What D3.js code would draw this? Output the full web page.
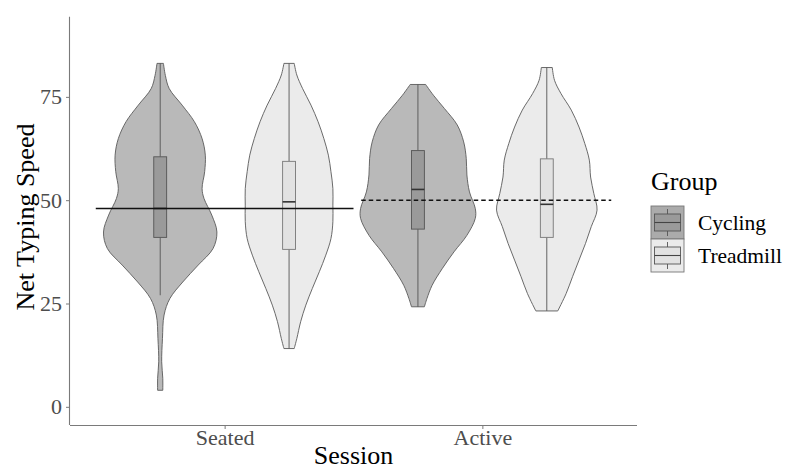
<!DOCTYPE html>
<html>
<head>
<meta charset="utf-8">
<script src="https://cdn.jsdelivr.net/npm/d3@7"></script>
<style>
  body { margin: 0; background: #fff; }
  svg { display: block; font-family: "Liberation Serif", "Times New Roman", serif; }
</style>
</head>
<body>
<div id="chart"></div>
<script>
// Categories
const sessions = ['Seated', 'Active'];
const groups = ['Cycling', 'Treadmill'];
const yTicks = [0, 25, 50, 75];

// Violin outlines: [value, relative density]
const seatedCycling = [
    [83.1, 0.05], [80.2, 0.08], [77.0, 0.14], [73.0, 0.34], [69.0, 0.53], [64.9, 0.65],
    [60.9, 0.70], [56.9, 0.69], [52.8, 0.65], [50.4, 0.68], [46.4, 0.80], [42.3, 0.88],
    [38.3, 0.82], [34.3, 0.59], [30.2, 0.35], [26.2, 0.15], [22.2, 0.06], [16.5, 0.035],
    [10.9, 0.023], [6.9, 0.04], [4.0, 0.04]
];
const seatedTreadmill = [
    [83.1, 0.08], [80.3, 0.12], [77.0, 0.21], [73.0, 0.34], [69.0, 0.45], [64.9, 0.54],
    [60.9, 0.61], [56.9, 0.65], [52.8, 0.68], [48.8, 0.68], [44.8, 0.68], [40.7, 0.65],
    [36.7, 0.57], [32.7, 0.47], [28.6, 0.36], [24.6, 0.26], [20.6, 0.18], [16.5, 0.12],
    [14.1, 0.08]
];
const activeCycling = [
    [78.0, 0.12], [75.4, 0.24], [72.2, 0.41], [68.2, 0.61], [64.1, 0.71], [60.1, 0.75],
    [56.1, 0.76], [52.0, 0.80], [48.0, 0.89], [45.6, 0.89], [41.5, 0.76], [37.5, 0.56],
    [33.5, 0.38], [29.4, 0.22], [26.2, 0.14], [24.2, 0.10]
];
const activeTreadmill = [
    [82.1, 0.085], [79.0, 0.12], [75.8, 0.22], [71.8, 0.38], [67.7, 0.50], [63.7, 0.59],
    [59.7, 0.66], [55.6, 0.68], [51.6, 0.73], [47.6, 0.78], [43.6, 0.69], [39.5, 0.60],
    [35.5, 0.50], [31.5, 0.40], [27.4, 0.30], [23.2, 0.17]
];

// Box plot stats: [lower whisker, q1, median, q3, upper whisker]
const seatedCyclingBox = [27.0, 41.0, 48.0, 60.5, 83.1];
const seatedTreadmillBox = [14.1, 38.1, 49.6, 59.4, 83.1];
const activeCyclingBox = [24.2, 43.0, 52.6, 62.0, 78.0];
const activeTreadmillBox = [23.2, 41.0, 49.0, 60.0, 82.1];

// Session means drawn as horizontal lines
const sessionMeans = [48, 50];

const violins = [
    {session: 0, group: 0, dens: seatedCycling, box: seatedCyclingBox},
    {session: 0, group: 1, dens: seatedTreadmill, box: seatedTreadmillBox},
    {session: 1, group: 0, dens: activeCycling, box: activeCyclingBox},
    {session: 1, group: 1, dens: activeTreadmill, box: activeTreadmillBox}
];

const violinFill = ['#b9b9b9', '#ebebeb'];
const boxFill = ['#9a9a9a', '#e2e2e2'];
const boxStroke = ['#555', '#777'];

const W = 786, H = 471;
const plot = {left: 70, right: 637, top: 16.7, bottom: 425};

const svg = d3.select('#chart')
    .append('svg')
    .attr('width', W)
    .attr('height', H);

// Scales
const x = d3.scaleLinear().domain([0.4, 2.6]).range([plot.left, plot.right]);
const y = d3.scaleLinear().domain([-4.4, 94.4]).range([plot.bottom, plot.top]);
const w = d3.scaleLinear().domain([0, 1]).range([0, x(0.25) - x(0)]);
const dodge = 0.25;
const boxHalf = 0.025;

const cx = d => x(d.session + 1 + (d.group === 0 ? -dodge : dodge));

// Violins
violins.forEach(v => {
    const c = cx(v);
    const area = d3.area()
        .y(d => y(d[0]))
        .x0(d => c - w(d[1]))
        .x1(d => c + w(d[1]))
        .curve(d3.curveCatmullRom);
    svg.append('path')
        .attr('d', area(v.dens))
        .attr('fill', violinFill[v.group])
        .attr('stroke', '#5a5a5a')
        .attr('stroke-width', 0.9);
});

// Boxes
violins.forEach(v => {
    const c = cx(v);
    const bw = x(boxHalf) - x(0);
    const b = v.box;
    const g = svg.append('g');
    g.append('line')
        .attr('x1', c).attr('x2', c)
        .attr('y1', y(b[4])).attr('y2', y(b[3]))
        .attr('stroke', '#555').attr('stroke-width', 0.9);
    g.append('line')
        .attr('x1', c).attr('x2', c)
        .attr('y1', y(b[1])).attr('y2', y(b[0]))
        .attr('stroke', '#555').attr('stroke-width', 0.9);
    g.append('rect')
        .attr('x', c - bw).attr('width', 2 * bw)
        .attr('y', y(b[3])).attr('height', y(b[1]) - y(b[3]))
        .attr('fill', boxFill[v.group])
        .attr('stroke', boxStroke[v.group])
        .attr('stroke-width', 0.9);
    g.append('line')
        .attr('x1', c - bw).attr('x2', c + bw)
        .attr('y1', y(b[2])).attr('y2', y(b[2]))
        .attr('stroke', '#333').attr('stroke-width', 1.6);
});

// Session mean lines
sessionMeans.forEach((m, i) => {
    svg.append('line')
        .attr('x1', x(i + 0.5 + (i === 1 ? 0.03 : 0)))
        .attr('x2', x(i + 1.5))
        .attr('y1', y(m)).attr('y2', y(m))
        .attr('stroke', '#111')
        .attr('stroke-width', 1.5)
        .attr('stroke-dasharray', i === 1 ? '4.5,3' : null);
});

// Axes
const xAxis = svg.append('g')
    .attr('transform', `translate(0,${plot.bottom})`)
    .call(d3.axisBottom(x).tickValues([1, 2]).tickFormat(d => sessions[d - 1]).tickSize(4).tickSizeOuter(0));
xAxis.select('.domain').attr('d', `M${plot.left},0.5H${plot.right}`);

const yAxis = svg.append('g')
    .attr('transform', `translate(${plot.left},0)`)
    .call(d3.axisLeft(y).tickValues(yTicks).tickSize(4).tickSizeOuter(0));
yAxis.select('.domain').attr('d', `M-0.5,${plot.top}V${plot.bottom}`);

svg.selectAll('.domain').attr('stroke', '#7a7a7a').attr('stroke-width', 1.1);
svg.selectAll('.tick line').attr('stroke', '#7a7a7a');
svg.selectAll('.tick text')
    .attr('font-family', '"Liberation Serif", serif')
    .attr('fill', '#4d4d4d');
xAxis.selectAll('.tick text').attr('font-size', 22).attr('y', 20).attr('dy', 0);
yAxis.selectAll('.tick text').attr('font-size', 22).attr('x', -8);

// Axis titles
svg.append('text')
    .attr('x', (plot.left + plot.right) / 2)
    .attr('y', 464)
    .attr('text-anchor', 'middle')
    .attr('font-size', 26)
    .text('Session');

svg.append('text')
    .attr('transform', `translate(34,217) rotate(-90)`)
    .attr('text-anchor', 'middle')
    .attr('font-size', 26)
    .text('Net Typing Speed');

// Legend
const legend = svg.append('g').attr('transform', 'translate(651,0)');
legend.append('text')
    .attr('x', 0).attr('y', 190)
    .attr('font-size', 26)
    .text('Group');

groups.forEach((gName, i) => {
    const ky = 206 + i * 33;
    const k = legend.append('g').attr('transform', `translate(0,${ky})`);
    k.append('rect')
        .attr('width', 33).attr('height', 33)
        .attr('fill', i === 0 ? '#ababab' : '#ebebeb')
        .attr('stroke', '#777').attr('stroke-width', 0.9);
    k.append('line')
        .attr('x1', 16.5).attr('x2', 16.5).attr('y1', 3).attr('y2', 30)
        .attr('stroke', '#555').attr('stroke-width', 0.9);
    k.append('rect')
        .attr('x', 3.5).attr('width', 26)
        .attr('y', 8).attr('height', 17)
        .attr('fill', boxFill[i])
        .attr('stroke', '#555').attr('stroke-width', 0.9);
    k.append('line')
        .attr('x1', 3.5).attr('x2', 29.5).attr('y1', 16.5).attr('y2', 16.5)
        .attr('stroke', '#444').attr('stroke-width', 1.1);
    legend.append('text')
        .attr('x', 47).attr('y', ky + 16.5)
        .attr('dy', '0.35em')
        .attr('font-size', 21.5)
        .text(gName);
});
</script>
</body>
</html>
